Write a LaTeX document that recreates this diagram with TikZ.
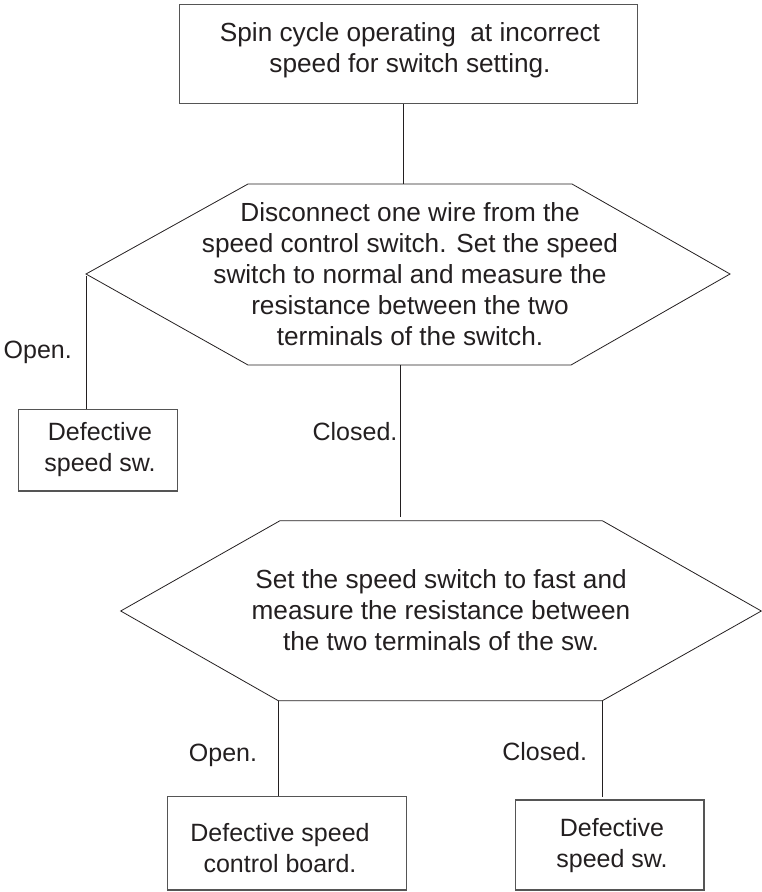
\documentclass[tikz,border=0pt]{standalone}
\usepackage{fontspec}
\setmainfont{Liberation Sans}
\definecolor{ink}{HTML}{231F20}
\definecolor{frame}{HTML}{555555}
\begin{document}
\begin{tikzpicture}[x=1pt,y=-1pt,
  box/.style={draw=frame, line width=1.3pt, inner sep=0pt},
  hex/.style={draw=ink, line width=0.8pt, line join=miter},
  link/.style={draw=ink, line width=0.9pt},
  txt/.style={text=ink, font=\fontsize{25}{31}\selectfont, align=center, inner sep=0pt},
  bigtxt/.style={txt, font=\fontsize{26.2}{31}\selectfont},
  lbl/.style={text=ink, font=\fontsize{25}{31}\selectfont, inner sep=0pt, anchor=base east}]
\useasboundingbox (0,0) rectangle (762,892);

% top box
\node[box, minimum width=458pt, minimum height=99.4pt] (start) at (408.2,54) {};
\node[bigtxt] (starttxt) at (410,51) {\strut Spin cycle operating\ \ at incorrect\\speed for switch setting.\strut};

% hexagon 1
\coordinate (h1l)  at (86,274);
\coordinate (h1tl) at (248,184);
\coordinate (h1tr) at (572,184);
\coordinate (h1r)  at (730,274);
\coordinate (h1br) at (571,365);
\coordinate (h1bl) at (248,365);
\draw[hex] (h1l) -- (h1tl) -- (h1tr) -- (h1r) -- (h1br) -- (h1bl) -- cycle;
\node[bigtxt] (q1) at (410,277) {\strut Disconnect one wire from the\\speed control switch. Set the speed\\switch to normal and measure the\\resistance between the two\\terminals of the switch.\strut};

% hexagon 2
\coordinate (h2l)  at (120.7,611);
\coordinate (h2tl) at (280,520.7);
\coordinate (h2tr) at (602.3,520.7);
\coordinate (h2r)  at (761.3,611);
\coordinate (h2br) at (602.3,700.7);
\coordinate (h2bl) at (278.3,700.7);
\draw[hex] (h2l) -- (h2tl) -- (h2tr) -- (h2r) -- (h2br) -- (h2bl) -- cycle;
\node[bigtxt] (q2) at (441,613) {\strut Set the speed switch to fast and\\measure the resistance between\\the two terminals of the sw.\strut};

% result boxes
\node[box, minimum width=158.6pt, minimum height=81.7pt] (lbox) at (98,450.2) {};
\node[txt] (lboxtxt) at (100,449.3) {\strut Defective\\speed sw.\strut};
\node[box, minimum width=239.4pt, minimum height=93.3pt] (blbox) at (287,843.3) {};
\node[txt] (blboxtxt) at (280,851) {\strut Defective speed\\control board.\strut};
\node[box, minimum width=188.7pt, minimum height=90pt] (brbox) at (609.7,845) {};
\node[txt] (brboxtxt) at (612,846) {\strut Defective\\speed sw.\strut};

% connectors
\coordinate (t1) at (403,184);
\draw[link] (start.south -| t1) -- (t1);
\coordinate (b1) at (400,365);
\coordinate (t2) at (400,517);
\draw[link] (b1) -- (t2);
\draw[link] ([yshift=-2.3pt]h1l) -- (h1l |- lbox.north);
\draw[link] (h2bl) -- (h2bl |- blbox.north);
\draw[link, shorten >=2.7pt] (h2br) -- (h2br |- brbox.north);

% labels
\node[lbl] (open1) at (72,358) {Open.};
\node[lbl] (closed1) at (397.6,440) {Closed.};
\node[lbl] (open2) at (257.3,761) {Open.};
\node[lbl] (closed2) at (587.3,760) {Closed.};
\end{tikzpicture}
\end{document}
